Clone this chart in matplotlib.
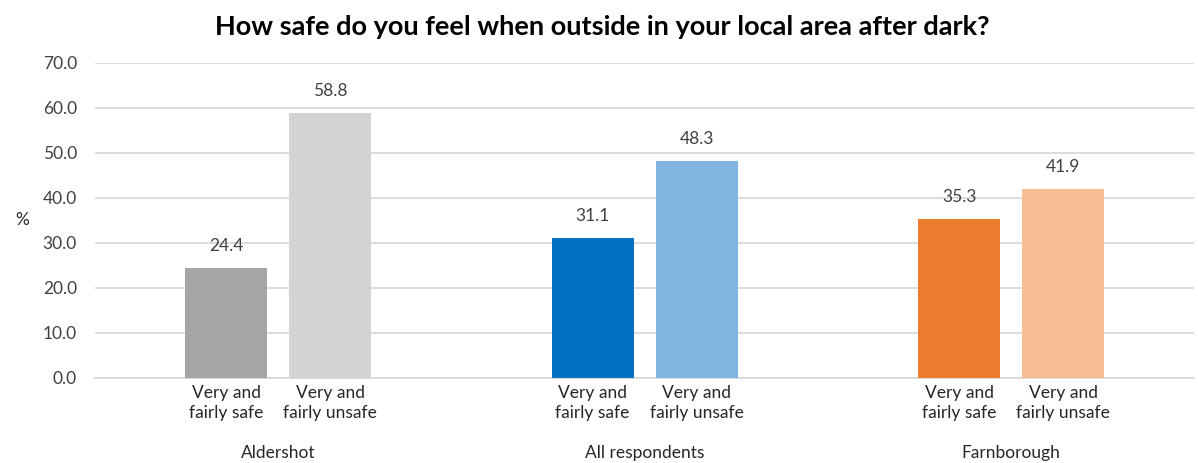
import matplotlib
matplotlib.use("Agg")
import matplotlib.pyplot as plt
import numpy as np
from matplotlib.transforms import blended_transform_factory

plt.rcParams['font.family'] = ['Lato', 'DejaVu Sans']

groups = ["Aldershot", "All respondents", "Farnborough"]
series_labels = ["Very and\nfairly safe", "Very and\nfairly unsafe"]
safe_values = [24.4, 31.1, 35.3]
unsafe_values = [58.8, 48.3, 41.9]
y_ticks = [0, 10, 20, 30, 40, 50, 60, 70]

safe_colors = ["#A5A5A5", "#0070C0", "#ED7D31"]
unsafe_colors = ["#D3D3D3", "#7FB5E0", "#F6BC96"]

fig = plt.figure(figsize=(11.98, 4.63), dpi=100)
ax = fig.add_axes([0.0793, 0.184, 0.9177, 0.680])

x = np.arange(len(groups))
width = 0.224
offset = 0.142
text_color = "#404040"
fs = 12.5

b1 = ax.bar(x - offset, safe_values, width, color=safe_colors, zorder=3)
b2 = ax.bar(x + offset, unsafe_values, width, color=unsafe_colors, zorder=3)

for bars, vals in ((b1, safe_values), (b2, unsafe_values)):
    for rect, v in zip(bars, vals):
        ax.annotate(f"{v:.1f}", (rect.get_x() + rect.get_width() / 2, v),
                    xytext=(0, 10), textcoords="offset points",
                    ha="center", va="bottom", fontsize=fs, color=text_color)

ax.set_xlim(-0.5, len(groups) - 0.5)
ax.set_ylim(0, 70)
ax.set_yticks(y_ticks)
ax.set_yticklabels([f"{t:.1f}" for t in y_ticks], fontsize=fs, color=text_color)
ax.yaxis.grid(True, color="#D9D9D9", linewidth=1.3, zorder=0)
ax.set_axisbelow(True)
ax.tick_params(axis="y", length=0, pad=13)
for s in ("left", "right", "top"):
    ax.spines[s].set_visible(False)
ax.spines["bottom"].set_color("#D9D9D9")
ax.spines["bottom"].set_linewidth(1.3)

pos = np.concatenate([x - offset, x + offset])
labs = [series_labels[0]] * len(groups) + [series_labels[1]] * len(groups)
ax.set_xticks(pos)
ax.set_xticklabels(labs, fontsize=fs, color="#262626", linespacing=1.3)
ax.tick_params(axis="x", length=0, pad=5)

trans = blended_transform_factory(ax.transData, ax.transAxes)
for xi, g in zip(x, groups):
    ax.text(xi, -0.238, g, transform=trans, ha="center", va="center",
            fontsize=fs, color="#262626")

fig.text(22 / 1198, 1 - 220 / 463, "%", ha="center", va="center",
         fontsize=fs, color="#262626")

fig.suptitle("How safe do you feel when outside in your local area after dark?",
             x=0.503, y=1 - 27 / 463, va="center", fontsize=19.5, fontweight="bold",
             color="black")

fig.savefig("out.png", dpi=100)
